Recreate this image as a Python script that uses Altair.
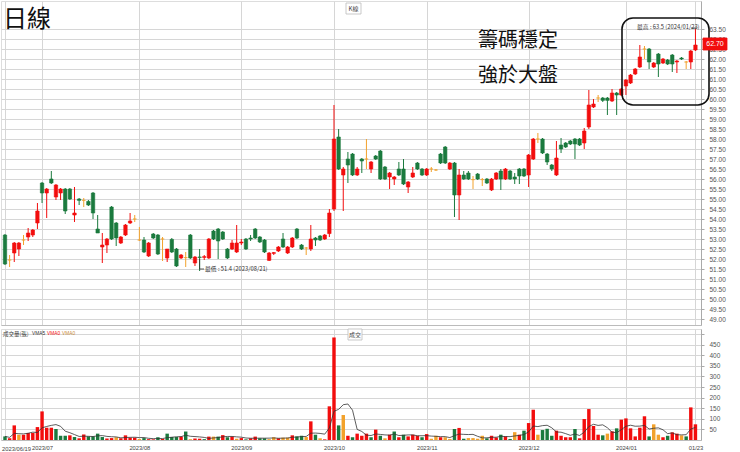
import altair as alt
import pandas as pd

CJK = "Noto Sans CJK TC"
LAT = "Liberation Sans"
RED, GREEN, ORANGE = "#f20d0d", "#1b7a3e", "#f2a22c"

# Daily candles, 2023/06/19 - 2024/01/23
opens = [
    53.2, 51.95, 52.3, 52.5, 52.95, 53.1, 53.2, 53.8, 55.8, 55.3,
    56.0, 55.1, 55.3, 55.5, 55.5, 54.2, 55.0, 54.93, 54.88, 55.3,
    53.5, 52.6, 52.7, 54.6, 53.8, 52.8, 53.2, 53.8, 54.0, 52.95,
    52.95, 52.15, 53.25, 53.2, 53.0, 52.05, 52.98, 52.5, 52.05, 52.07,
    53.2, 51.8, 52.1, 52.08, 52.05, 53.4, 53.5, 53.35, 52.5, 52.5,
    52.35, 52.8, 53.0, 53.05, 53.5, 53.1, 52.95, 51.93, 52.28, 52.4,
    53.0, 52.3, 52.6, 53.5, 52.7, 52.55, 52.5, 53.05, 53.15, 53.0,
    53.27, 54.5, 58.1, 56.2, 57.0, 57.25, 56.2, 57.0, 57.0, 56.5,
    57.15, 57.4, 56.6, 56.1, 56.0, 56.5, 56.5, 55.6, 56.1, 56.8,
    56.5, 56.2, 56.5, 56.45, 57.25, 57.6, 56.5, 56.8, 55.2, 56.2,
    56.3, 55.97, 56.25, 55.97, 56.0, 55.45, 56.0, 56.4, 56.0, 56.4,
    56.1, 56.5, 56.5, 56.2, 57.0, 58.0, 58.0, 57.25, 56.7, 56.2,
    57.7, 57.8, 57.9, 58.0, 58.0, 57.8, 58.6, 59.6, 60.05, 60.05,
    60.05, 59.9, 60.3, 60.2, 60.65, 60.8, 61.25, 61.6, 62.5, 62.5,
    61.6, 62.25, 61.8, 61.95, 62.2, 61.85, 62.05, 61.85, 61.85, 62.45,
]
highs = [
    53.25, 52.2, 52.85, 52.85, 53.2, 53.55, 53.5, 54.8, 55.85, 55.55,
    56.4, 55.75, 55.55, 55.55, 55.55, 55.6, 55.05, 55.05, 54.95, 55.35,
    54.2, 53.3, 53.05, 54.65, 53.85, 53.15, 53.75, 54.3, 54.2, 53.6,
    53.1, 52.85, 53.3, 53.25, 53.1, 52.5, 53.05, 52.55, 52.25, 52.35,
    53.25, 52.15, 52.5, 52.2, 53.05, 53.45, 53.55, 53.4, 52.55, 52.95,
    53.7, 53.0, 53.05, 53.2, 53.55, 53.15, 53.0, 52.35, 52.35, 52.65,
    53.3, 52.65, 53.1, 53.55, 52.75, 52.6, 53.7, 53.1, 53.2, 53.25,
    54.5, 59.7, 58.5, 56.6, 57.35, 57.3, 56.6, 57.05, 58.0, 56.9,
    57.2, 57.45, 56.65, 56.35, 56.15, 56.85, 57.0, 55.9, 56.6, 56.85,
    56.55, 56.55, 56.6, 56.5, 57.3, 57.65, 56.85, 56.85, 56.5, 56.4,
    56.4, 56.15, 56.3, 56.05, 56.05, 56.05, 56.35, 56.5, 56.55, 56.45,
    56.3, 56.55, 56.55, 57.25, 58.05, 58.3, 58.05, 57.3, 56.75, 57.9,
    58.05, 57.85, 57.95, 58.05, 58.05, 58.55, 60.45, 60.0, 60.2, 60.1,
    60.1, 60.5, 60.35, 60.55, 61.0, 61.25, 61.55, 62.7, 62.65, 62.55,
    61.85, 62.3, 62.05, 62.0, 62.25, 61.95, 62.1, 61.9, 62.45, 63.5,
]
lows = [
    51.7, 51.6, 51.85, 52.15, 52.7, 52.9, 53.1, 53.5, 54.8, 54.05,
    55.75, 54.95, 54.95, 54.25, 54.95, 53.85, 54.7, 54.6, 54.65, 54.0,
    53.3, 51.8, 52.3, 52.95, 52.65, 52.75, 53.15, 53.75, 53.85, 52.9,
    52.3, 52.1, 53.0, 52.2, 51.9, 51.85, 52.3, 51.6, 52.0, 51.6,
    52.0, 51.65, 51.4, 51.95, 52.0, 52.95, 52.0, 52.95, 52.0, 52.45,
    52.3, 52.7, 52.45, 52.9, 53.0, 52.8, 52.3, 51.9, 52.2, 52.35,
    52.55, 52.25, 52.55, 53.0, 52.45, 52.2, 52.4, 52.65, 52.9, 52.95,
    53.1, 54.4, 56.45, 54.4, 55.8, 56.15, 56.15, 56.3, 56.5, 56.3,
    56.95, 55.95, 55.95, 55.5, 55.7, 56.15, 55.7, 55.3, 56.05, 56.45,
    56.15, 56.15, 56.35, 56.4, 56.75, 56.75, 56.45, 54.1, 53.95, 55.95,
    55.95, 55.5, 55.95, 55.65, 55.75, 55.4, 55.95, 55.45, 55.95, 55.95,
    55.75, 55.75, 56.1, 55.6, 56.95, 57.8, 57.25, 56.7, 56.4, 56.15,
    57.3, 57.55, 57.7, 57.0, 57.65, 57.5, 58.5, 59.55, 59.85, 59.85,
    59.2, 59.85, 59.2, 60.15, 60.2, 60.75, 61.2, 61.55, 62.0, 61.5,
    61.55, 61.1, 61.75, 61.7, 61.35, 61.3, 61.95, 61.5, 61.5, 62.4,
]
closes = [
    51.75, 51.95, 52.8, 52.8, 52.95, 53.3, 53.45, 54.4, 55.3, 55.5,
    55.8, 55.7, 55.5, 54.4, 55.0, 54.3, 54.93, 54.93, 54.7, 54.3,
    53.3, 52.7, 53.0, 53.0, 53.05, 53.1, 53.7, 53.9, 54.0, 52.95,
    52.35, 52.8, 53.05, 52.25, 53.0, 52.5, 52.35, 51.65, 52.2, 52.07,
    52.05, 52.1, 52.08, 52.12, 53.0, 53.0, 52.9, 53.0, 52.05, 52.8,
    52.8, 52.85, 52.5, 53.0, 53.05, 52.85, 52.35, 52.3, 52.32, 52.6,
    52.6, 52.6, 53.05, 53.05, 52.5, 52.55, 53.0, 52.95, 52.95, 53.2,
    54.3, 58.0, 56.5, 56.5, 56.7, 56.2, 56.5, 56.9, 57.0, 56.85,
    57.0, 56.0, 56.0, 56.3, 56.1, 56.2, 55.75, 55.85, 56.3, 56.5,
    56.2, 56.5, 56.5, 56.45, 56.8, 56.8, 56.8, 55.2, 56.2, 56.0,
    56.0, 55.97, 56.0, 55.97, 55.8, 56.0, 56.3, 56.0, 56.5, 56.0,
    56.0, 56.15, 56.15, 57.2, 58.0, 58.0, 57.3, 56.85, 56.5, 57.05,
    57.5, 57.6, 57.75, 57.75, 57.7, 58.4, 59.7, 59.75, 60.05, 59.93,
    59.93, 60.3, 60.2, 60.5, 60.95, 61.2, 61.5, 62.1, 62.5, 61.85,
    61.8, 61.75, 62.0, 61.75, 61.75, 61.9, 62.0, 61.85, 62.4, 62.7,
]
# Daily volume in lots (張)
volumes = [
    17, 8, 69, 25, 25, 33, 33, 61, 135, 58,
    58, 52, 20, 20, 22, 14, 8, 26, 17, 17,
    30, 14, 7, 9, 13, 8, 22, 11, 11, 5,
    9, 4, 3, 13, 5, 30, 14, 14, 16, 40,
    4, 7, 6, 4, 16, 16, 16, 23, 13, 16,
    6, 9, 3, 8, 16, 8, 8, 4, 13, 8,
    11, 11, 22, 17, 20, 14, 88, 25, 8, 3,
    159, 484, 69, 118, 20, 13, 30, 20, 30, 13,
    49, 20, 8, 25, 40, 13, 25, 17, 25, 20,
    13, 28, 6, 20, 13, 13, 5, 52, 57, 6,
    9, 9, 6, 20, 8, 20, 12, 25, 17, 5,
    37, 25, 44, 80, 143, 25, 47, 53, 20, 44,
    20, 13, 13, 52, 8, 99, 146, 66, 25, 22,
    30, 41, 55, 96, 102, 55, 17, 58, 112, 17,
    74, 25, 13, 20, 36, 30, 22, 17, 154, 74,
]
# Volume bar colour per session: r = up, g = down, o = unchanged
vol_side = "".join([
    "grrorrrrrr", "rgggrgrrgg", "ggrrorrrro", "grrgrgggrg", "orrgrogrgr",
    "orgrrggoor", "oorggorgor", "rrgorgrrrg", "rgorgrgrrr", "grooroogrg",
    "oooogrrgrg", "orgrrogggr", "rrrgrrrrrg", "orgrrrrrrg", "oorgrrogrr",
])

# Trading calendar: weekdays minus exchange holidays
holidays = ["2023-06-22", "2023-06-23", "2023-08-03", "2023-09-29",
            "2023-10-09", "2023-10-10", "2024-01-01"]
days = [d for d in pd.bdate_range("2023-06-19", "2024-01-23")
        if d.strftime("%Y-%m-%d") not in holidays]

side_name = {"r": "up", "g": "down", "o": "flat"}
df = pd.DataFrame({
    "i": range(len(days)),
    "date": [d.strftime("%Y/%m/%d") for d in days],
    "o": opens, "h": highs, "l": lows, "c": closes,
    "vol": volumes,
    "vside": [side_name[s] for s in vol_side],
})

# Axis ticks: first session, first session of each month, last session
tick_idx = [0]
for k in range(1, len(days)):
    if days[k].month != days[k - 1].month:
        tick_idx.append(k)
tick_idx.append(len(days) - 1)
first_label = "2023/06/19"          # drawn left-aligned at the panel edge
tick_text = ["", "2023/07", "2023/08", "2023/09", "2023/10",
             "2023/11", "2023/12", "2024/01", "01/23"]
label_expr = "''"
for v, t in zip(reversed(tick_idx), reversed(tick_text)):
    label_expr = f"datum.value == {v} ? '{t}' : ({label_expr})"

price_ticks = [49 + 0.5 * k for k in range(30)]
vol_ticks = [50 * k for k in range(1, 11)]

GRID = "#d6d6d6"
x_scale = alt.Scale(domain=[-0.86, 150.2], nice=False, zero=False)
p_scale = alt.Scale(domain=[48.7, 64.9], nice=False, zero=False)
v_scale = alt.Scale(domain=[0, 524], nice=False, zero=False)
color_scale = alt.Scale(domain=["up", "down", "flat"], range=[RED, GREEN, ORANGE])

x_top = alt.Axis(values=tick_idx, labels=False, ticks=False, domain=True,
                 domainColor="#bbbbbb", grid=True, gridColor=GRID, title=None)
x_bottom = alt.Axis(values=tick_idx, labelExpr=label_expr, ticks=False, domain=True,
                    domainColor="#bbbbbb", grid=True, gridColor=GRID, labelFont=LAT,
                    labelFontSize=5.8, labelColor="#444444", labelPadding=4,
                    labelOverlap=False, title=None)
p_axis = alt.Axis(orient="right", values=price_ticks, format=".2f", grid=True,
                  gridColor=GRID, domainColor="#aaaaaa", tickColor="#aaaaaa", tickSize=3,
                  labelFont=LAT, labelFontSize=6.5, labelColor="#555555", labelPadding=5,
                  title=None)
v_axis = alt.Axis(orient="right", values=vol_ticks,
                  labelExpr="datum.value > 450 ? '' : datum.label",
                  grid=True, gridColor=GRID, domainColor="#aaaaaa", tickColor="#aaaaaa",
                  tickSize=3, labelFont=LAT, labelFontSize=6.5, labelColor="#555555",
                  labelPadding=5, title=None)

candles = alt.Chart(df).transform_calculate(
    side="datum.c > datum.o ? 'up' : (datum.c < datum.o ? 'down' : 'flat')",
    x1="datum.i - 0.37", x2="datum.i + 0.37",
    b1="min(datum.o, datum.c)", b2="max(datum.o, datum.c)",
)
wicks = candles.mark_rule(strokeWidth=1).encode(
    x=alt.X("i:Q", scale=x_scale, axis=x_top, title=None),
    y=alt.Y("l:Q", scale=p_scale, axis=p_axis, title=None),
    y2="h:Q",
    color=alt.Color("side:N", scale=color_scale, legend=None),
)
bodies = candles.mark_rect(strokeWidth=0.6).encode(
    x=alt.X("x1:Q", scale=x_scale, axis=x_top, title=None),
    x2="x2:Q",
    y=alt.Y("b1:Q", scale=p_scale, axis=p_axis, title=None),
    y2="b2:Q",
    color=alt.Color("side:N", scale=color_scale, legend=None),
    stroke=alt.Color("side:N", scale=color_scale, legend=None),
)


def note(txt, x, y, size, color="#222222", font=CJK, align="left"):
    return alt.Chart(pd.DataFrame({"t": [txt]})).mark_text(
        align=align, baseline="middle", fontSize=size, color=color, font=font,
    ).encode(x=alt.value(x), y=alt.value(y), text="t:N")


def box(x1, x2, y1, y2, fill="white", stroke="#bbbbbb", width=0.8, radius=0):
    return alt.Chart(pd.DataFrame({"k": [0]})).mark_rect(
        fill=fill, stroke=stroke, strokeWidth=width, cornerRadius=radius,
    ).encode(x=alt.value(x1), x2=alt.value(x2), y=alt.value(y1), y2=alt.value(y2))


def seg(x1, x2, y1, y2, color="#333333", width=0.8):
    return alt.Chart(pd.DataFrame({"k": [0]})).mark_rule(
        color=color, strokeWidth=width,
    ).encode(x=alt.value(x1), x2=alt.value(x2), y=alt.value(y1), y2=alt.value(y2))


price = alt.layer(
    wicks, bodies,
    note("日線", 2, 18.5, 24, "#111111"),
    box(345, 360, 2, 13),
    note("K線", 352.5, 7.5, 6, "#444444", align="center"),
    note("籌碼穩定", 477, 40, 20, "#111111"),
    note("強於大盤", 477, 75, 20, "#111111"),
    box(621, 708, 17, 104, fill="transparent", stroke="#111111", width=1.6, radius=11),
    note("最高 : 63.5 (2024/01/23)", 636, 26, 5.8, "#333333"),
    seg(690, 696, 27, 27),
    seg(198.6, 198.6, 258, 268),
    seg(198.6, 203, 268, 268),
    note("最低 : 51.4 (2023/08/21)", 204, 268, 5.8, "#333333"),
    box(702, 726, 37, 49, fill=RED, stroke=RED),
    note("62.70", 714, 43, 7, "white", font=LAT, align="center"),
).properties(width=700, height=324)

vbase = alt.Chart(df).transform_calculate(x1="datum.i - 0.37", x2="datum.i + 0.37")
vbars = vbase.mark_rect().encode(
    x=alt.X("x1:Q", scale=x_scale, axis=x_bottom, title=None),
    x2="x2:Q",
    y=alt.Y("vol:Q", scale=v_scale, axis=v_axis, title=None),
    y2=alt.datum(0),
    color=alt.Color("vside:N", scale=color_scale, legend=None),
)
vma = alt.Chart(df).transform_window(
    vma="mean(vol)", frame=[-4, 0], sort=[alt.SortField("i")]
).mark_line(color="#333333", strokeWidth=0.8).encode(
    x=alt.X("i:Q", scale=x_scale, axis=x_bottom, title=None),
    y=alt.Y("vma:Q", scale=v_scale, axis=v_axis, title=None),
)

volume = alt.layer(
    vbars, vma,
    note("成交量(張)", 2, 5, 5.5, "#444444"),
    note("VMA5", 31, 5, 4.8, "#333333", font=LAT),
    note("VMA0", 46, 5, 4.8, RED, font=LAT),
    note("VMA0", 61, 5, 4.8, "#c98a3a", font=LAT),
    box(347, 361, 0, 11),
    note("成交", 354, 5.5, 6, "#444444", align="center"),
    note(first_label, 1, 119.5, 5.8, "#444444", font=LAT),
).properties(width=700, height=111)

chart = alt.vconcat(price, volume, spacing=2).properties(padding=0).configure_view(
    stroke=None
).configure(background="white")

chart.save("out.html", embed_options={"renderer": "svg", "actions": False})
